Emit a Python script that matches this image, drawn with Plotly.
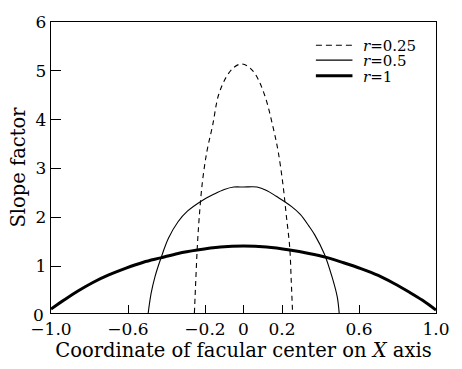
import plotly.graph_objects as go

# r = 0.25 (dashed)
r025_x = [-0.255, -0.248, -0.24, -0.23, -0.213, -0.19, -0.16, -0.13, -0.09, -0.05,
          -0.013, 0.02, 0.06, 0.11, 0.155, 0.18, 0.205, 0.222, 0.24, 0.248, 0.255]
r025_y = [0.04, 0.7, 1.39, 2.0, 2.74, 3.35, 3.89, 4.5, 4.87, 5.07,
          5.14, 5.1, 4.94, 4.5, 3.82, 3.35, 2.67, 2.05, 1.39, 0.7, 0.04]

# r = 0.5 (thin solid)
r05_x = [-0.495, -0.48, -0.46, -0.43, -0.39, -0.34, -0.29, -0.22, -0.155, -0.1,
         -0.05, 0.0, 0.07, 0.12, 0.17, 0.25, 0.295, 0.34, 0.37, 0.42, 0.46, 0.487, 0.497]
r05_y = [0.04, 0.44, 0.78, 1.15, 1.57, 1.91, 2.13, 2.33, 2.47, 2.57,
         2.62, 2.62, 2.62, 2.55, 2.43, 2.22, 2.06, 1.82, 1.64, 1.25, 0.78, 0.37, 0.04]

# r = 1 (thick solid)
r1_x = [-1.0, -0.93, -0.86, -0.78, -0.7, -0.61, -0.52, -0.43, -0.34, -0.24, -0.12,
        0.0, 0.12, 0.24, 0.34, 0.43, 0.52, 0.61, 0.7, 0.78, 0.86, 0.93, 1.0]
r1_y = [0.12, 0.31, 0.49, 0.67, 0.82, 0.96, 1.08, 1.17, 1.26, 1.33, 1.39,
        1.41, 1.39, 1.33, 1.26, 1.18, 1.07, 0.95, 0.81, 0.65, 0.47, 0.3, 0.1]

x_tickvals = [-1.0, -0.6, -0.2, 0.0, 0.2, 0.6, 1.0]
x_ticktext = ["\u22121.0", "\u22120.6", "\u22120.2", "0", "0.2", "0.6", "1.0"]
y_tickvals = [1, 2, 3, 4, 5, 6]

legend_labels = ["<i>r</i>=0.25", "<i>r</i>=0.5", "<i>r</i>=1"]

FONT = "DejaVu Serif"

fig = go.Figure()
fig.add_trace(go.Scatter(x=r025_x, y=r025_y, mode="lines", line_shape="spline",
                         line=dict(color="black", width=1.1, dash="5px,4px"), showlegend=False))
fig.add_trace(go.Scatter(x=r05_x, y=r05_y, mode="lines", line_shape="spline",
                         line=dict(color="black", width=1.1), showlegend=False))
fig.add_trace(go.Scatter(x=r1_x, y=r1_y, mode="lines", line_shape="spline",
                         line=dict(color="black", width=3), showlegend=False))

# manual legend
leg_y = [0.920, 0.869, 0.815]
leg_styles = [dict(color="black", width=1.1, dash="6px,4px"),
              dict(color="black", width=1.1),
              dict(color="black", width=3)]
for yy, st, lab in zip(leg_y, leg_styles, legend_labels):
    fig.add_shape(type="line", xref="paper", yref="paper", x0=0.688, x1=0.783, y0=yy, y1=yy,
                  line=st)
    fig.add_annotation(xref="paper", yref="paper", x=0.805, y=yy - 0.004, text=lab,
                       showarrow=False, xanchor="left", yanchor="middle",
                       font=dict(family=FONT, size=15, color="black"))

# "0" label at origin
fig.add_annotation(xref="paper", yref="paper", x=0, y=0, text="0", showarrow=False,
                   xanchor="right", yanchor="middle", xshift=-5, yshift=-2,
                   font=dict(family=FONT, size=17, color="black"))

fig.update_layout(
    width=462, height=369,
    margin=dict(l=51, r=14, t=19, b=56),
    paper_bgcolor="white", plot_bgcolor="white",
    font=dict(family=FONT, size=17, color="black"),
    xaxis=dict(range=[-1, 1], tickvals=x_tickvals, ticktext=x_ticktext,
               ticks="inside", ticklen=8, tickwidth=1, tickcolor="black",
               tickfont=dict(family=FONT, size=17),
               showline=True, linecolor="black", linewidth=1.3, mirror=True,
               showgrid=False, zeroline=False,
               title=dict(text="Coordinate of facular center on <i>X</i> axis",
                          font=dict(family=FONT, size=19.5), standoff=4)),
    yaxis=dict(range=[0.04, 6], tickvals=y_tickvals,
               ticks="inside", ticklen=10, tickwidth=1, tickcolor="black",
               tickfont=dict(family=FONT, size=17),
               showline=True, linecolor="black", linewidth=1.3, mirror=True,
               showgrid=False, zeroline=False,
               title=dict(text="Slope factor", font=dict(family=FONT, size=19.5), standoff=4)),
)

fig.write_html("out.html")
